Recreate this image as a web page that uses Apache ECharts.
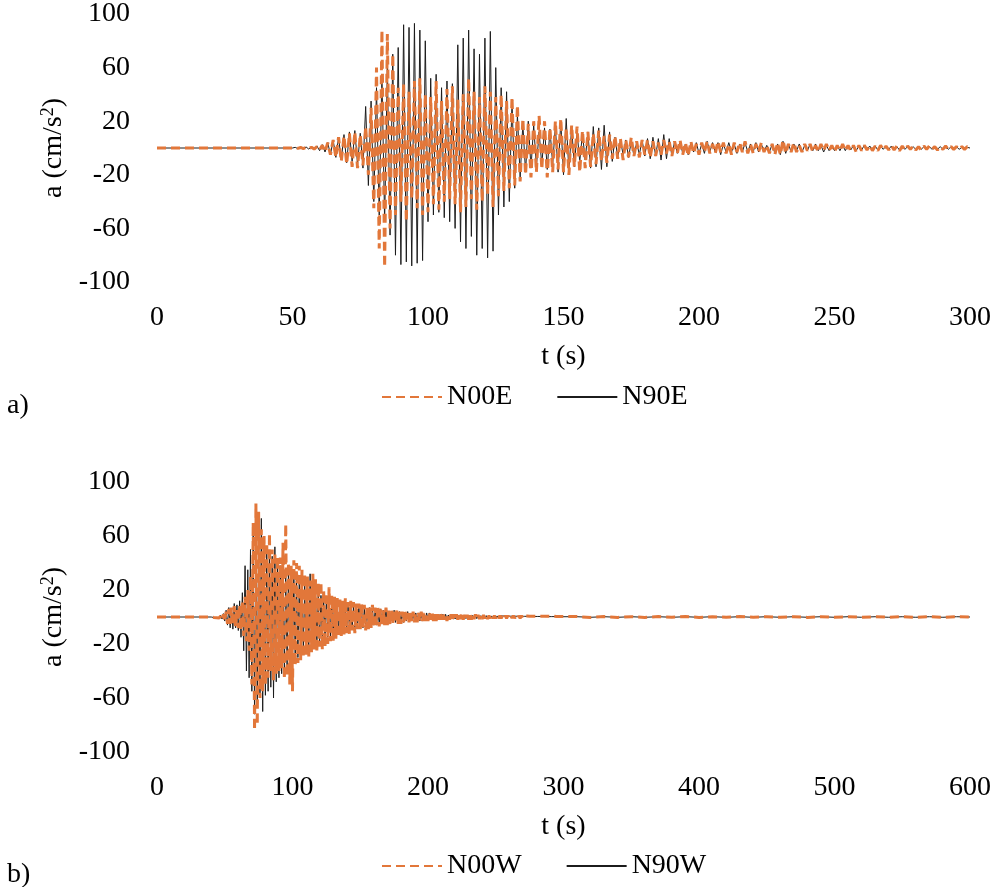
<!DOCTYPE html>
<html>
<head>
<meta charset="utf-8">
<script src="https://cdn.jsdelivr.net/npm/echarts@6/dist/echarts.min.js"></script>
<style>
html,body{margin:0;padding:0;background:#fff;}
#chart{width:1005px;height:887px;}
</style>
</head>
<body>
<div id="chart"></div>
<script>
// ---- Data ----
// Panel a): 0–300 s. Samples every 1 s from t = 50 s; flat before.
const startA = 50;
const dtA = 1;
const N00E = [
0,0.3,-0.3,0.4,-0.4,0.5,-0.5,0.6,-0.8,1,
-1.5,2,-3,4,-5,6,-7,8,-10,9,
-12,11,-14,12,-15,10,-13,16,-20,30,
-45,60,-75,88,-89,85,-60,70,-50,45,
-40,48,-55,42,-38,50,-45,52,-50,40,
-48,38,-42,50,-46,35,-40,44,-38,46,
-42,36,-48,40,-44,52,-38,42,-46,38,
-40,46,-35,42,-44,38,-36,40,-32,35,
-30,38,-28,32,-25,22,-20,18,-22,20,
-18,24,-16,20,-22,15,-18,20,-16,22,
-18,15,-20,17,-14,16,-18,13,-15,12,
-14,11,-12,13,-10,9,-11,10,-8,9,
-8,7,-9,6,-7,8,-6,5,-7,6,
-5,6,-7,5,-6,4,-5,6,-4,5,
-6,5,-4,6,-5,4,-6,5,-4,3,
-5,4,-3,5,-4,3,-4,5,-3,4,
-4,3,-5,4,-3,4,-3,5,-4,3,
-4,3,-3,4,-3,2,-4,3,-5,4,
-5,6,-4,3,-3,4,-3,2,-3,3,
-2,3,-3,2,-3,3,-2,3,-2,2,
-3,2,-2,3,-2,2,-2,2,-3,2,
-2,2,-1.5,2,-2,1.5,-2,2,-1.5,1.5,
-1.5,2,-1.5,1.5,-2,1.5,-1.5,1.5,-1,1.5,
-1.5,1,-1.5,1.5,-1,1.5,-1,1,-1.5,1,
-1,1.5,-1,1,-1,1,-1,1,-1,1,0
];
const N90E = [
0,0.5,-0.5,0.5,-0.6,0.8,-0.8,1,-1.2,1.5,
-2,2.5,-3,4,-5,6,-7,8,-9,10,
-11,12,-10,13,-12,11,-15,31,-28,35,
-40,45,-50,55,-55,60,-65,70,-80,75,
-87,92,-85,90,-88,93,-86,88,-84,80,
-55,52,-50,55,-48,45,-52,50,-55,48,
-60,77,-70,82,-75,88,-66,74,-80,70,
-75,82,-82,87,-77,60,-50,45,-44,42,
-40,35,-30,25,-22,18,-18,20,-15,17,
-14,12,-13,15,-16,14,-12,16,-18,20,
-20,22,-18,16,-14,12,-10,11,-9,12,
-15,16,-14,15,-16,17,-14,12,-10,8,
-7,6,-5,6,-7,5,-6,4,-5,6,
-6,7,-8,8,-6,7,-9,10,-8,7,
-6,5,-4,5,-4,3,-5,4,-3,4,
-4,3,-4,5,-3,4,-3,4,-5,3,
-3,4,-3,3,-4,3,-3,4,-3,3,
-3,4,-3,3,-3,2,-3,3,-4,3,
-5,5,-4,3,-3,3,-2,3,-3,2,
-2,3,-2,3,-2,2,-3,2,-2,2,
-2,2,-2,2,-2,2,-1.5,2,-2,1.5,
-1.5,2,-1.5,1.5,-1.5,1.5,-1.5,1.5,-1,1.5,
-1,1.5,-1,1,-1.5,1,-1,1,-1,1,
-1,1,-1,1,-1,1,-1,1,-1,1,
-1,1,-1,1,-1,1,-1,0.5,-0.5,0.5,0
];

// Panel b): 0–600 s. Samples every 1 s from t = 40 s to 300 s, then every 10 s.
const startB = 40;
const dtB = 1;
const N00W = [
0,0.3,-0.3,0.4,-0.5,0.6,-0.8,1,-1.5,2,
-3,4,-5,6,-5,7,-6,8,-7,6,
-8,9,-10,12,-14,15,-18,20,-25,30,
-50,70,-84,84,-80,78,-60,65,-55,60,
-50,55,-45,62,-40,50,-47,48,-42,45,
-40,44,-38,55,-46,69,-44,40,-50,38,
-55,42,-36,40,-34,38,-32,35,-30,32,
-28,30,-30,27,-26,32,-24,28,-26,25,
-22,26,-24,20,-22,18,-20,22,-18,16,
-18,15,-16,14,-15,13,-14,12,-13,14,
-12,11,-13,12,-10,11,-12,10,-9,10,
-9,10,-8,9,-10,8,-9,7,-8,9,
-8,7,-6,8,-7,6,-7,5,-6,7,
-6,5,-6,6,-5,5,-4,5,-5,4,
-5,4,-4,5,-4,3,-4,4,-3,4,
-4,3,-4,3,-3,4,-3,3,-3,3,
-3,3,-2,3,-3,2,-3,2,-2,3,
-2,3,-2,2,-3,2,-2,2,-2,2,
-2,2,-2,2,-1.5,2,-2,1.5,-2,1.5,
-2,2.5,-2,2,-1.5,2,-1.5,1.5,-1.5,1.5,
-1.5,1.5,-1,1.5,-1.5,1,-1,1.5,-1,1,
-1,1,-1,1,-1,1,-1,1,-1,1,
-1,1,-0.8,1,-0.8,0.8,-1,0.8,-0.8,0.8,
-0.8,0.8,-0.6,0.8,-0.6,0.6,-0.8,0.6,-0.6,0.6,
-0.6,0.6,-0.5,0.6,-0.5,0.5,-0.6,0.5,-0.5,0.5,
-0.5,0.5,-0.4,0.5,-0.4,0.4,-0.5,0.4,-0.4,0.4,
0
];
const N90W = [
0,0.4,-0.4,0.5,-0.6,0.8,-1,1.2,-1.5,2.5,
-3,5,-6,7,-8,6,-9,10,-8,9,
-10,12,-15,18,-25,38,-40,35,-45,50,
-55,60,-72,50,-65,55,-60,73,-70,55,
-58,50,-55,48,-52,45,-60,52,-48,40,
-45,38,-42,36,-40,35,-38,32,-35,30,
-32,30,-34,28,-30,26,-28,25,-26,24,
-24,22,-25,32,-22,20,-22,18,-20,17,
-18,16,-17,15,-16,14,-15,13,-14,12,
-13,12,-12,11,-11,10,-12,10,-10,9,
-10,9,-9,8,-9,8,-8,7,-8,8,
-7,7,-8,6,-7,6,-6,7,-6,6,
-6,5,-6,5,-5,6,-5,5,-4,5,
-5,4,-5,4,-4,5,-4,4,-4,4,
-4,3,-4,3,-3,4,-3,3,-3,3,
-3,3,-3,3,-3,2,-3,2,-2,3,
-2,3,-2,2,-2,2,-2,2,-2,2,
-2,2,-1.5,2,-2,1.5,-2,1.5,-1.5,1.5,
-1.5,1.5,-1.5,1.5,-1.5,1.5,-1.2,1.5,-1.2,1.2,
-1.2,1.2,-1,1.2,-1,1,-1.2,1,-1,1,
-1,1,-1,1,-0.8,1,-0.8,0.8,-0.8,0.8,
-0.8,0.8,-0.8,0.8,-0.6,0.8,-0.6,0.6,-0.6,0.6,
-0.6,0.6,-0.6,0.6,-0.5,0.6,-0.5,0.5,-0.5,0.5,
-0.5,0.5,-0.5,0.5,-0.4,0.5,-0.4,0.4,-0.4,0.4,
-0.4,0.4,-0.4,0.4,-0.3,0.4,-0.3,0.3,-0.3,0.3,
-0.3,0.3,-0.3,0.3,-0.3,0.3,-0.3,0.3,-0.2,0.2,
0
];
const tailStartB = 310;
const tailDtB = 10;
const N00W_tail = [0.3,-0.3,0.3,-0.3,0.2,-0.3,0.3,-0.2,0.3,-0.3,0.2,-0.2,0.3,-0.2,0.2,-0.2,0.2,-0.3,0.2,-0.2,0.2,-0.2,0.2,-0.2,0.2,-0.2,0.2,-0.2,0.2,0];
const N90W_tail = [0.2,-0.2,0.2,-0.2,0.2,-0.2,0.2,-0.2,0.2,-0.2,0.2,-0.2,0.2,-0.2,0.2,-0.2,0.2,-0.2,0.2,-0.2,0.2,-0.2,0.2,-0.2,0.2,-0.2,0.2,-0.2,0.2,0];

// Axis ticks
const xTicksA = {min: 0, max: 300, interval: 50};
const xTicksB = {min: 0, max: 600, interval: 100};
const yLabels = [-100, -60, -20, 20, 60, 100];

// ---- Build pairs ----
function build(start, dt, vals, tailStart, tailDt, tail) {
  const out = [[0, 0]];
  vals.forEach((v, i) => out.push([start + i * dt, v]));
  if (tail) tail.forEach((v, i) => out.push([tailStart + i * tailDt, v]));
  return out;
}
const dA1 = build(startA, dtA, N00E);
const dA2 = build(startA, dtA, N90E);
const dB1 = build(startB, dtB, N00W, tailStartB, tailDtB, N00W_tail);
const dB2 = build(startB, dtB, N90W, tailStartB, tailDtB, N90W_tail);

const FONT = 'Liberation Serif';
const ORANGE = '#E2773A';
const BLACK = '#1c1c1c';
const txt = {fontFamily: FONT, fontSize: 28, color: '#000'};

function yAxis(gi) {
  return {
    gridIndex: gi, type: 'value', min: -100, max: 100, interval: 20,
    axisLine: {show: false}, axisTick: {show: false}, splitLine: {show: false},
    axisLabel: Object.assign({margin: 27, formatter: v => yLabels.includes(v) ? String(v) : ''}, txt),
    name: 'a (cm/s{sup|2})', nameLocation: 'middle', nameGap: 75,
    nameTextStyle: Object.assign({rich: {sup: {fontFamily: FONT, fontSize: 18, color: '#000', padding: [0, 0, 12, 0]}}}, txt)
  };
}
function xAxis(gi, t) {
  return {
    gridIndex: gi, type: 'value', min: t.min, max: t.max, interval: t.interval,
    axisLine: {show: false}, axisTick: {show: false}, splitLine: {show: false},
    axisLabel: Object.assign({margin: 22}, txt),
    name: 't (s)', nameLocation: 'middle', nameGap: 61, nameTextStyle: txt
  };
}
function lineSeries(name, gi, data, dashed) {
  return {
    name, type: 'line', xAxisIndex: gi, yAxisIndex: gi, data,
    showSymbol: false, symbol: 'none', silent: true,
    z: dashed ? 3 : 2,
    lineStyle: dashed ? {color: ORANGE, width: 3, type: [9, 5]} : {color: BLACK, width: 1},
    itemStyle: {color: dashed ? ORANGE : BLACK}
  };
}
const legendCommon = {
  itemWidth: 60, itemHeight: 14, itemGap: 44, textStyle: txt, padding: 0,
  itemStyle: {opacity: 0}
};

const chart = echarts.init(document.getElementById('chart'), null, {renderer: 'canvas'});
chart.setOption({
  animation: false,
  backgroundColor: '#fff',
  grid: [
    {left: 157, right: 35, top: 12, height: 270},
    {left: 157, right: 35, top: 482, height: 270}
  ],
  xAxis: [xAxis(0, xTicksA), xAxis(1, xTicksB)],
  yAxis: [yAxis(0), yAxis(1)],
  title: [
    {text: 'a)', left: 2, top: 387, textStyle: Object.assign({fontWeight: 'normal'}, txt)},
    {text: 'b)', left: 2, top: 856, textStyle: Object.assign({fontWeight: 'normal'}, txt)}
  ],
  legend: [
    Object.assign({data: ['N00E', 'N90E'], left: 381, top: 383}, legendCommon),
    Object.assign({data: ['N00W', 'N90W'], left: 381, top: 852}, legendCommon)
  ],
  series: [
    lineSeries('N90E', 0, dA2, false),
    lineSeries('N00E', 0, dA1, true),
    lineSeries('N90W', 1, dB2, false),
    lineSeries('N00W', 1, dB1, true)
  ]
});
</script>
</body>
</html>
